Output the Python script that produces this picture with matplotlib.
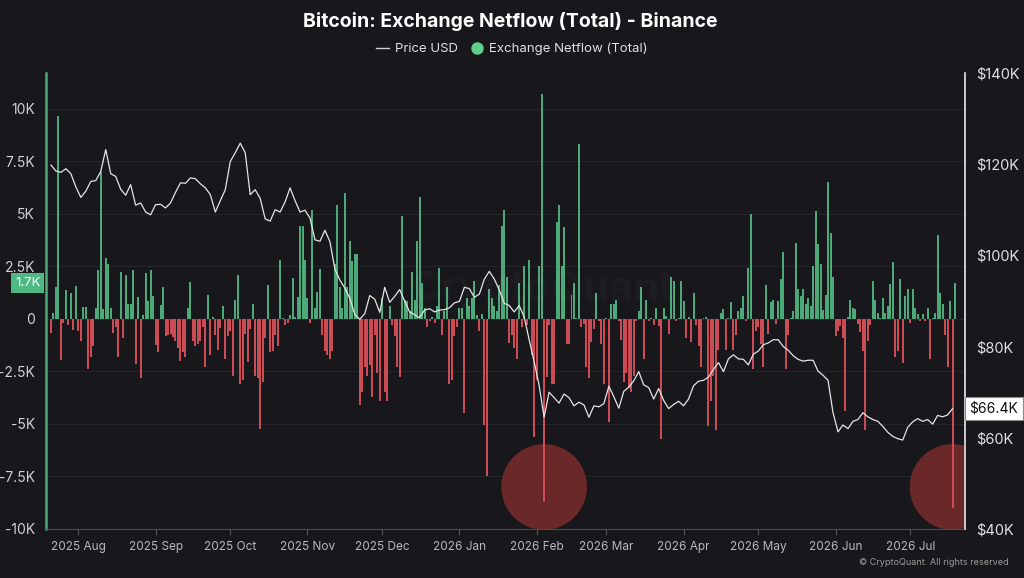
import numpy as np
import pandas as pd
import matplotlib
matplotlib.use("Agg")
import matplotlib.pyplot as plt
import matplotlib.dates as mdates
import matplotlib.transforms as mtransforms
from matplotlib.lines import Line2D
from matplotlib.ticker import FixedLocator, FuncFormatter

plt.rcParams['font.family'] = ['Inter', 'DejaVu Sans']

# Daily exchange netflow (BTC, in thousands), 2025-07-21 .. 2026-07-19
netflow_k = [
    -0.67, 0.3, 1.5, 9.65, -1.95, -0.2, 1.37, -0.27, 1.25, -0.55,
    1.56, -0.6, -1.07, 0.57, 0.57, -2.4, -1.8, -1.3, 0.5, 2.3,
    7.0, 0.45, 2.9, 2.6, 0.5, -0.67, -0.4, -1.8, 2.25, -0.9,
    2.1, 0.7, 0.7, 2.3, -2.15, 1.05, -2.8, 0.2, 2.17, 0.85,
    2.3, 1.08, -1.23, -1.6, 0.68, 1.5, -0.8, -0.75, -0.7, -0.85,
    -1.05, -1.4, -2.0, -1.6, -1.8, 0.5, 1.77, -1.05, -1.3,
    -1.2, -1.05, -0.4, -2.3, 1.15, -1.7, 0.1, -0.75, -1.5, -0.45,
    0.6, -1.9, -0.8, -0.6, -2.7, 0.9, 2.1, -3.1, -2.9, -0.7,
    -2.05, -0.5, 0.7, -2.7, -2.8, -5.25, -3.0, -0.9, 1.6, -1.6,
    -1.55, -0.75, -1.3, 2.8, 0.05, -0.27, -0.2, 0.2, 1.93, 0.1,
    1.03, 4.4, 4.4, 2.8, 0.97, -0.2, 5.2, 0.5, 1.3, 2.36,
    -0.75, -1.55, -1.7, -1.9, -1.55, 2.6, 5.4, 1.5, 0.5, 6.0,
    1.5, 3.7,
    2.75, 3.1, 3.1, -4.1, -3.5, -2.3, -2.7, -2.2, -3.7, -0.75,
    -2.6, -3.9, 1.0, -3.5, -3.9, 0.6, -0.3, -0.8, -2.3, -2.75,
    4.9, 0.9, 0.85, 0.35, 2.25, 0.9, 3.7, 5.8, 1.7, 0.5,
    -0.4, -0.1, 0.1, -0.2, 0.6, 2.4, -0.75, 0.35, 1.5, -3.1,
    -2.9, -0.8, -0.4, 0.5, 0.5, -4.5, 1.0, 0.6, 1.0, 1.8,
    0.2, -0.6, 0.25, -5.05, -7.5, 1.4, 1.0, 0.6, 0.35, 1.6,
    4.4,
    5.2, 2.0, -1.15, -0.75, -1.4, -1.9, 1.7, -0.4, 2.5, -0.3,
    2.8, -1.7, -5.6, -2.9, 2.5, 10.7, -8.7, -2.75, -0.3, -3.1,
    -3.1, 4.6, 5.4, 2.5, 4.35, -1.2, -1.2, 1.15, 1.7, 0.05,
    8.3, -0.4, -0.25, -2.3, -2.8, -1.1, -0.5, 1.25, -0.1, -1.2,
    -3.1, 0.05, -4.9, 0.7, 0.7, 0.9, -0.1, -1.0, -3.0, -2.6,
    -3.3, -3.5, -2.7, -0.1, 0.35, 1.5, -1.9, 0.9, -0.1, 0.05,
    -0.3,
    0.5, -0.35, -5.7, 0.5, 0.15, -0.7, 2.0, 1.8, -0.1, 0.05,
    1.8, 0.85, -0.9, 0.1, -1.1, 1.25, -0.3, -1.3, -2.3, 0.05,
    0.1, -5.1, -3.9, -2.7, -5.3, -1.5, 0.3, 0.45, -1.5, 0.05,
    0.8, -1.5, -0.75, 0.35, 0.5, 1.1, -0.1, 2.4, 5.0, -2.4,
    -0.6, -0.4, -1.2, -2.3, 1.6, -0.7, 0.8, 0.9, -0.25, 0.85,
    1.9, 3.2, -2.4, -0.75, 0.05, 0.35, 3.6, 1.4, 1.1, 1.4,
    0.7,
    1.0, 0.6, 2.5, 5.15, 3.55, 2.6, 0.4, 1.15, 6.5, 4.1,
    2.0, -0.8, -0.6, -0.35, -0.9, -4.4, 0.1, 0.9, 0.5, 0.45,
    -0.25, -0.65, -1.55, -5.3, -1.05, -0.3, 1.8, 0.9, 0.3, 0.05,
    1.0, 0.3, 0.6, 1.65, 2.7, -1.8, -1.55, 1.9, -2.1, 1.1,
    1.4, -0.2, 1.4, 0.5, 0.25, -0.1, 0.25, -0.1, 0.5, -1.9,
    0.05, 0.3, 4.0, 1.25, 0.7, -0.75, -2.3, 0.85, -9.0, 1.7,
]

# BTC price (USD thousands), every 2 days from 2025-07-21
price_k = [
    119.8, 118.5, 118.2, 119.0, 117.9, 115.0, 112.7, 114.1, 116.2, 116.4,
    118.4, 123.2, 117.9, 117.3, 114.5, 113.2, 115.5, 111.0, 111.5, 109.5,
    108.9, 111.1, 111.2, 110.4, 111.5, 113.8, 115.9, 115.8, 117.0, 116.8,
    115.7, 114.8, 113.3, 109.5, 112.0, 114.4, 120.6, 122.5, 124.6, 122.5,
    113.3, 114.4, 112.5, 108.0, 107.5, 110.0, 109.5, 111.7, 114.8, 112.0,
    109.5, 109.9, 108.2, 103.4, 103.1, 105.5, 103.0, 97.0, 94.6, 92.8,
    90.6, 87.0, 86.0, 87.2, 91.2, 90.4, 87.5, 93.0, 89.7, 91.0,
    92.5, 90.0, 87.6, 87.0, 86.3, 88.0, 88.3, 87.6, 88.0, 88.1,
    88.5, 89.6, 89.9, 93.0, 92.7, 90.8, 91.5, 94.8, 96.5, 94.8,
    92.4, 89.5, 89.0, 87.6, 89.0, 86.5, 81.5, 76.7, 71.5, 64.5,
    70.0, 68.8, 67.6, 69.6, 68.8, 67.0, 67.8, 67.2, 64.5, 67.0,
    66.8, 67.5, 71.3, 69.0, 66.5, 70.2, 71.1, 72.5, 74.5, 71.6,
    71.0, 68.5, 70.8, 68.2, 66.4, 67.3, 68.0, 67.0, 68.5, 71.4,
    72.4, 72.6, 73.3, 75.0, 76.5, 74.5, 77.3, 78.2, 77.3, 77.2,
    76.0, 78.3, 79.0, 80.4, 80.8, 81.5, 81.5, 80.0, 79.2, 78.0,
    77.2, 76.8, 77.0, 77.0, 74.6, 73.7, 72.6, 65.5, 61.3, 62.8,
    62.0, 63.6, 64.0, 65.5, 64.6, 64.0, 63.6, 62.5, 61.2, 60.3,
    59.8, 59.5, 62.3, 63.5, 64.2, 63.6, 64.0, 63.0, 64.9, 64.6,
    65.0, 66.4,
]

netflow_ticks = [-10000, -7500, -5000, -2500, 0, 2500, 5000, 7500, 10000]
price_ticks = [40000, 60000, 80000, 100000, 120000, 140000]

dates = pd.date_range('2025-07-21', periods=len(netflow_k), freq='D')
price_dates = pd.date_range('2025-07-21', periods=len(price_k), freq='2D')
netflow = np.array(netflow_k) * 1000
price = np.array(price_k) * 1000

BG = '#18181c'
GREEN = '#4caa7a'
RED = '#cc4c56'

fig = plt.figure(figsize=(10.24, 5.78), dpi=100, facecolor=BG)
ax = fig.add_axes([0.0449, 0.0848, 0.8975, 0.789])
ax.set_facecolor(BG)

# highlight circles behind the two largest outflows
low = np.argsort(netflow)[:2]
ax.scatter(dates[low], [-8000] * 2, s=3800, color='#722a2b', alpha=0.92,
           edgecolors='none', zorder=2)

ax.bar(dates, netflow, width=0.8, color=np.where(netflow >= 0, GREEN, RED),
       linewidth=0, zorder=3)
ax.set_ylim(-10000, 11700)
ax.set_xlim(pd.Timestamp('2025-07-19'), pd.Timestamp('2026-07-23'))

ax.yaxis.set_major_locator(FixedLocator(netflow_ticks))
ax.yaxis.set_major_formatter(FuncFormatter(
    lambda v, p: '0' if v == 0 else f'{v/1000:g}K'))
ax.tick_params(axis='y', length=0, pad=8, labelsize=10, labelcolor='#d2d2d2')
ax.grid(axis='y', color='#242429', lw=0.8, zorder=0)

ax.xaxis.set_major_locator(mdates.MonthLocator())
ax.xaxis.set_major_formatter(mdates.DateFormatter('%Y %b'))
ax.tick_params(axis='x', length=4, color='#55555c', pad=5, labelsize=8.5,
               labelcolor='#b8b8b8')

for s in ['top', 'right']:
    ax.spines[s].set_visible(False)
ax.spines['left'].set_color(GREEN)
ax.spines['left'].set_linewidth(1.8)
ax.spines['bottom'].set_color('#4a4a50')

ax2 = ax.twinx()
ax2.plot(price_dates, price, color='#e4e4e4', lw=0.9, zorder=4)
ax2.set_ylim(40000, 140000)
ax2.yaxis.set_major_locator(FixedLocator(price_ticks))
ax2.yaxis.set_major_formatter(FuncFormatter(lambda v, p: f'${v/1000:.0f}K'))
ax2.tick_params(axis='y', length=0, pad=8, labelsize=10.5, labelcolor='#e0e0e0')
for s in ['top', 'left', 'bottom']:
    ax2.spines[s].set_visible(False)
ax2.spines['right'].set_color('#e8e8e8')
ax2.spines['right'].set_linewidth(1.2)

# last-value labels
tl = mtransforms.blended_transform_factory(ax.transAxes, ax.transData)
ax.text(-0.006, netflow[-1], f'{netflow[-1]/1000:.1f}K', transform=tl,
        ha='right', va='center', fontsize=9.5, color='white', clip_on=False,
        bbox=dict(boxstyle='square,pad=0.28', fc='#4fb984', ec='none'))
tr = mtransforms.blended_transform_factory(ax2.transAxes, ax2.transData)
ax2.text(1.005, price[-1], f'${price[-1]/1000:.1f}K', transform=tr,
         ha='left', va='center', fontsize=10, color='#111111', clip_on=False,
         bbox=dict(boxstyle='square,pad=0.3', fc='white', ec='#888888', lw=0.8))

fig.text(0.498, 0.963, 'Bitcoin: Exchange Netflow (Total) - Binance', ha='center',
         va='center', fontsize=14, fontweight='bold', color='white')
handles = [Line2D([0], [0], color='#cfcfcf', lw=1),
           Line2D([0], [0], marker='o', color='none', markerfacecolor='#5fcf8c',
                  markeredgecolor='none', markersize=9)]
fig.legend(handles, ['Price USD', 'Exchange Netflow (Total)'], loc='center',
           bbox_to_anchor=(0.5, 0.915), ncol=2, frameon=False, fontsize=9.5,
           labelcolor='#e0e0e0', handlelength=1.0, handletextpad=0.4,
           columnspacing=1.0)
fig.text(0.53, 0.498, 'CryptoQuant', ha='center', va='center', fontsize=30,
         fontweight='bold', color='white', alpha=0.025)
fig.text(0.985, 0.026, '© CryptoQuant. All rights reserved', ha='right',
         va='center', fontsize=6.5, color='#9a9a9a')

fig.savefig('out.png', dpi=100, facecolor=BG)
